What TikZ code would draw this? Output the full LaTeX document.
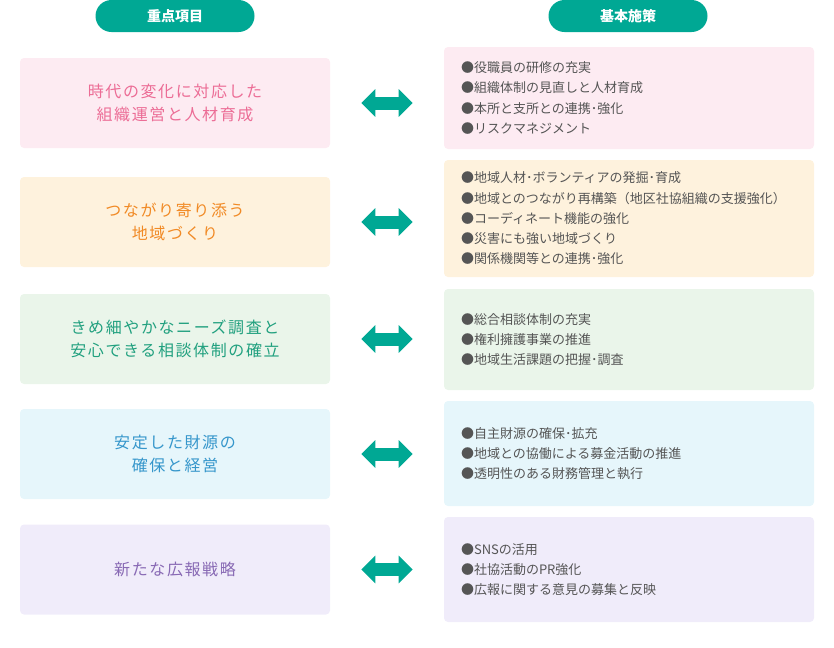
\documentclass[tikz,border=0pt]{standalone}
\usepackage{fontspec}
\setmainfont{Noto Sans CJK JP}
\newfontfamily\spacedjp[LetterSpace=10]{Noto Sans CJK JP}
\usetikzlibrary{arrows.meta}
\definecolor{teal1}{HTML}{00A894}
\definecolor{greytx}{HTML}{555555}
\definecolor{pinkbg}{HTML}{FDEBF2}\definecolor{pinktx}{HTML}{EC6D96}
\definecolor{orangebg}{HTML}{FEF2DD}\definecolor{orangetx}{HTML}{F18A25}
\definecolor{greenbg}{HTML}{EAF5EA}\definecolor{greentx}{HTML}{21A07F}
\definecolor{bluebg}{HTML}{E6F6FB}\definecolor{bluetx}{HTML}{3596CB}
\definecolor{purplebg}{HTML}{F0ECFA}\definecolor{purpletx}{HTML}{8869B4}
\tikzset{
  pill/.style={fill=teal1, rounded corners=12pt, minimum width=119.25pt, minimum height=24pt,
    text=white, font=\bfseries\fontsize{10.5pt}{12pt}\selectfont, inner sep=0pt},
  itembox/.style={rounded corners=3pt, minimum width=232.5pt, minimum height=67.5pt,
    align=center, font=\spacedjp\fontsize{12pt}{17.25pt}\selectfont, inner sep=0pt},
  policybox/.style={rounded corners=3pt, minimum width=277.5pt, text width=252pt,
    inner xsep=12.75pt, inner ysep=0pt, align=left, text=greytx,
    font=\fontsize{9.75pt}{15.2pt}\selectfont},
  biarrow/.style={draw=teal1, line width=9.75pt,
    {Triangle[length=10.5pt,width=20.25pt]}-{Triangle[length=10.5pt,width=20.25pt]},
    shorten <=23.25pt, shorten >=23.25pt}
}
\begin{document}
\begin{tikzpicture}[x=0.75pt,y=-0.75pt]
\useasboundingbox (0,0) rectangle (834,647);
\node[pill] (h1) at (175,16) {重点項目};
\node[pill] (h2) at (628,16) {基本施策};

\node[itembox, fill=pinkbg, text=pinktx] (L1) at (175,103) {時代の変化に対応した\\組織運営と人材育成};
\node[itembox, fill=orangebg, text=orangetx] (L2) at (175,222) {つながり寄り添う\\地域づくり};
\node[itembox, fill=greenbg, text=greentx] (L3) at (175,339) {きめ細やかなニーズ調査と\\安心できる相談体制の確立};
\node[itembox, fill=bluebg, text=bluetx] (L4) at (175,454) {安定した財源の\\確保と経営};
\node[itembox, fill=purplebg, text=purpletx] (L5) at (175,569.5) {新たな広報戦略};

\node[policybox, fill=pinkbg, minimum height=76.5pt] (R1) at (629,98) {●役職員の研修の充実\\●組織体制の見直しと人材育成\\●本所と支所との連携･強化\\●リスクマネジメント};
\node[policybox, fill=orangebg, minimum height=87.75pt] (R2) at (629,218.5) {●地域人材･ボランティアの発掘･育成\\●地域とのつながり再構築（地区社協組織の支援強化）\\●コーディネート機能の強化\\●災害にも強い地域づくり\\●関係機関等との連携･強化};
\node[policybox, fill=greenbg, minimum height=75.75pt] (R3) at (629,339.5) {●総合相談体制の充実\\●権利擁護事業の推進\\●地域生活課題の把握･調査};
\node[policybox, fill=bluebg, minimum height=78.75pt] (R4) at (629,453.5) {●自主財源の確保･拡充\\●地域との協働による募金活動の推進\\●透明性のある財務管理と執行};
\node[policybox, fill=purplebg, minimum height=78.75pt] (R5) at (629,569.5) {●SNSの活用\\●社協活動のPR強化\\●広報に関する意見の募集と反映};

\foreach \i in {1,...,5}{
  \draw[biarrow] (L\i.east) -- (L\i.east -| R\i.west);
}
\end{tikzpicture}
\end{document}
